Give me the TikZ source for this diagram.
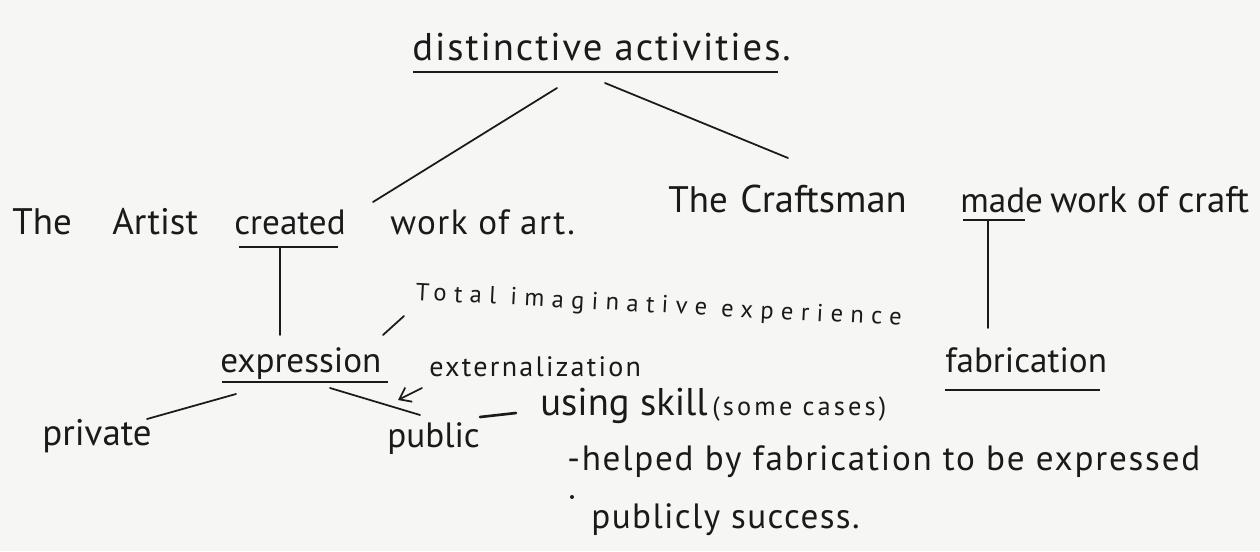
\documentclass[tikz,border=0pt]{standalone}
\usepackage{fontspec}
\setmainfont{PT Sans}
\usepackage{tikz}
\usetikzlibrary{arrows.meta,calc,positioning}
\definecolor{paper}{RGB}{246,246,244}
\definecolor{ink}{HTML}{1A1A1A}
\tikzset{
  hand/.style={anchor=base west,inner sep=0pt,text=ink,font=\fontsize{20}{24}\selectfont},
  rowhand/.style={hand,font=\fontsize{21}{25}\selectfont},
  bighand/.style={hand,font=\fontsize{22}{26}\selectfont\addfontfeature{LetterSpace=5}},
  smallhand/.style={hand,font=\fontsize{14}{17}\selectfont\addfontfeature{LetterSpace=30}},
  midhand/.style={hand,font=\fontsize{16}{19}\selectfont\addfontfeature{LetterSpace=8}},
  link/.style={ink,line width=1pt,line cap=round},
  uline/.style={ink,line width=1.2pt}
}

\begin{document}
\begin{tikzpicture}[x=0.02cm,y=-0.02cm]
\fill[paper] (0,0) rectangle (1260,551);
\useasboundingbox (0,0) rectangle (1260,551);
% heading
\node[bighand] (title) at (412,60) {distinctive activities.};
\draw[uline] ([shift={(1,12)}]title.base west) -- ++(365,0);
% the two activities
\node[rowhand] (the1) at (12,234) {The};
\node[rowhand] (artist) at (112,234) {Artist};
\node[hand] (created) at (234,234) {created};
\node[hand,font=\fontsize{20}{24}\selectfont\addfontfeature{LetterSpace=4}] (artwork) at (390,234) {work of art.};
\node[rowhand] (the2) at (668,212) {The};
\node[rowhand,font=\fontsize{22}{26}\selectfont] (craftsman) at (740,212) {Craftsman};
\node[hand] (made) at (960,212) {made};
\node[rowhand] (craftwork) at (1050,212) {work of craft};
\draw[link] ([shift={(145,28)}]title.base west) -- ([shift={(-17,-32)}]artwork.base west);
\draw[link] ([shift={(193,23)}]title.base west) -- ([shift={(48,-54)}]craftsman.base west);
\draw[uline] ([shift={(5,13)}]created.base west) -- ++(99,0);
\draw[uline] ([shift={(3,8)}]made.base west) -- ++(62,0);
% artist side
\node[smallhand,rotate=-3] (total) at (415,300) {Total imaginative experience};
\node[hand] (expression) at (220,372) {expression};
\draw[uline] ([shift={(2,10)}]expression.base west) -- ++(166,0);
\draw[link] ([shift={(46,13)}]created.base west) -- ++(0,88);
\draw[link] ([shift={(-11,16)}]total.base west) -- ++(-21,19);
\node[midhand] (extern) at (429,376) {externalization};
\draw[link,-{Straight Barb[length=6pt,width=9pt]}] ([shift={(-7,12)}]extern.base west) -- ++(-24,12);
\node[rowhand] (private) at (42,445) {private};
\node[hand] (public) at (387,447) {public};
\draw[link] ([shift={(16,22)}]expression.base west) -- ([shift={(-5,-26)}]private.base east);
\draw[link] ([shift={(110,16)}]expression.base west) -- ([shift={(33,-32)}]public.base west);
\node[hand,font=\fontsize{22}{26}\selectfont] (using) at (540,415) {using skill};
\node[hand,font=\fontsize{15}{18}\selectfont\addfontfeature{LetterSpace=12}] (cases) at (712,415) {(some cases)};
\draw[link,line width=1.5pt] ([shift={(93,-30)}]public.base west) -- ([shift={(-24,-2)}]using.base west);
\node[hand,font=\fontsize{20}{24}\selectfont\addfontfeature{LetterSpace=5}] (helped) at (567,470) {-helped by fabrication to be expressed};
\fill[ink] ([shift={(5,27)}]helped.base west) circle (2);
\node[hand,font=\fontsize{20}{24}\selectfont\addfontfeature{LetterSpace=4}] (publicly) at (591,528) {publicly success.};
% craftsman side
\node[hand] (fabrication) at (945,372) {fabrication};
\draw[uline] ([shift={(0,18)}]fabrication.base west) -- ++(155,0);
\draw[link] ([shift={(28,8)}]made.base west) -- ++(0,108);
\end{tikzpicture}
\end{document}
